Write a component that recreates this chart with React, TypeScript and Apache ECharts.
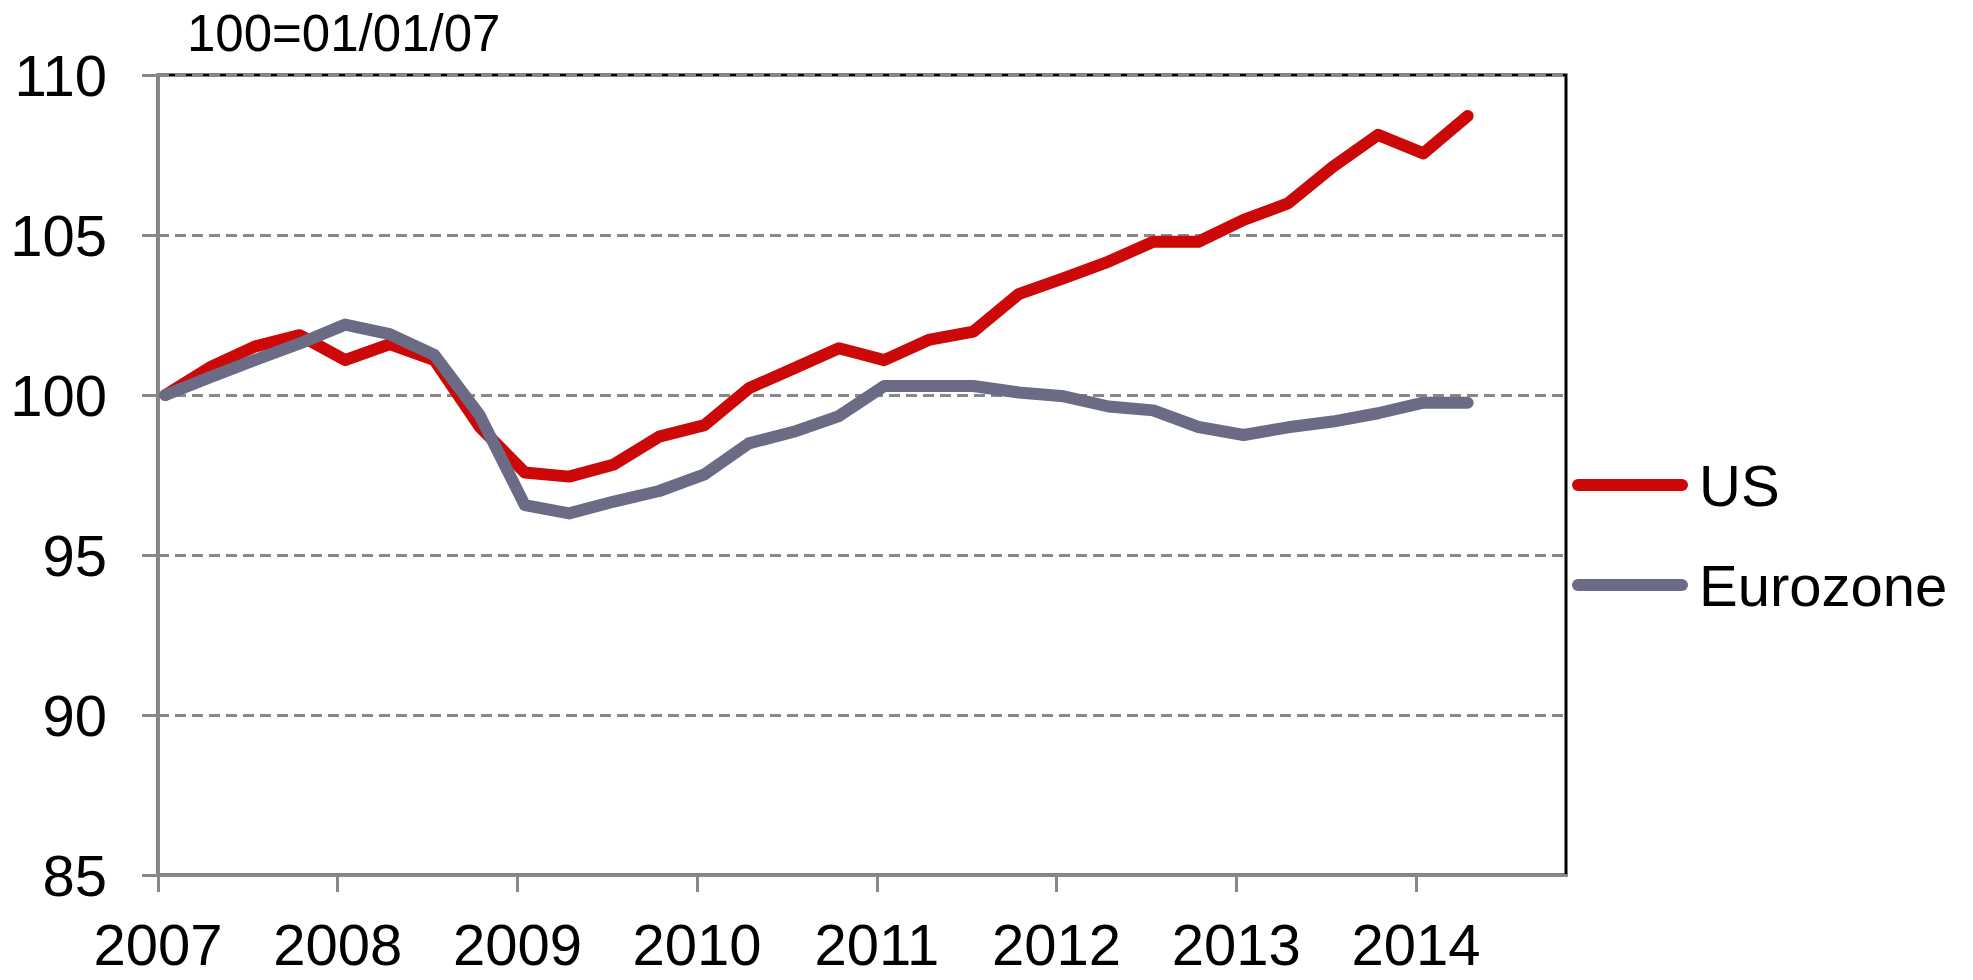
import React, { useEffect, useRef } from "react";
import * as echarts from "echarts";

const quarterDates = [
  "2007-01-16", "2007-04-16", "2007-07-16", "2007-10-16",
  "2008-01-16", "2008-04-16", "2008-07-16", "2008-10-16",
  "2009-01-16", "2009-04-16", "2009-07-16", "2009-10-16",
  "2010-01-16", "2010-04-16", "2010-07-16", "2010-10-16",
  "2011-01-16", "2011-04-16", "2011-07-16", "2011-10-16",
  "2012-01-16", "2012-04-16", "2012-07-16", "2012-10-16",
  "2013-01-16", "2013-04-16", "2013-07-16", "2013-10-16",
  "2014-01-16", "2014-04-16",
];

const usValues = [
  100, 100.86, 101.51, 101.87, 101.09, 101.59, 101.09, 99.01, 97.58, 97.45,
  97.83, 98.7, 99.06, 100.21, 100.83, 101.46, 101.09, 101.72, 101.98, 103.15,
  103.65, 104.17, 104.79, 104.79, 105.47, 105.99, 107.13, 108.13, 107.55, 108.72,
];

const eurozoneValues = [
  100, 100.55, 101.09, 101.61, 102.2, 101.9, 101.25, 99.37, 96.56, 96.3,
  96.67, 97.0, 97.52, 98.49, 98.85, 99.34, 100.28, 100.28, 100.28, 100.08,
  99.96, 99.64, 99.52, 99.0, 98.75, 98.99, 99.17, 99.43, 99.76, 99.76,
];

const yearTicks = [2007, 2008, 2009, 2010, 2011, 2012, 2013, 2014];
const seriesNames = ["US", "Eurozone"];
const baseNote = "100=01/01/07";

const toDecimalYear = (d: string) => {
  const [y, m, day] = d.split("-").map(Number);
  const start = Date.UTC(y, 0, 1);
  const end = Date.UTC(y + 1, 0, 1);
  const t = Date.UTC(y, m - 1, day);
  return y + (t - start) / (end - start);
};

const FONT = "'Liberation Sans', Arial, sans-serif";
const GRAY = "#888888";
const capsule = "path://M6,0 H110 A6,6 0 0 1 110,12 H6 A6,6 0 0 1 6,0 Z";

export default function App() {
  const ref = useRef<HTMLDivElement>(null);
  useEffect(() => {
    if (!ref.current) return;
    const chart = echarts.init(ref.current, undefined, { renderer: "svg" });
    const xs = quarterDates.map(toDecimalYear);
    chart.setOption({
      animation: false,
      backgroundColor: "#ffffff",
      textStyle: { fontFamily: FONT },
      grid: {
        left: 158,
        right: 407,
        top: 75,
        bottom: 105,
        show: true,
        borderColor: "#000000",
        borderWidth: 3,
        backgroundColor: "transparent",
        z: -1,
      },
      graphic: [
        {
          type: "text",
          left: 187,
          top: 8,
          style: {
            text: baseNote,
            fontSize: 51,
            fontFamily: FONT,
            fill: "#000000",
          },
        },
      ],
      legend: {
        orient: "vertical",
        left: 1572,
        top: 456,
        padding: 0,
        itemGap: 42,
        itemWidth: 116,
        itemHeight: 12,
        data: seriesNames.map((n) => ({ name: n, icon: capsule })),
        textStyle: {
          fontSize: 58,
          lineHeight: 58,
          color: "#000000",
          fontFamily: FONT,
          padding: [0, 0, 0, 6],
        },
      },
      xAxis: {
        type: "value",
        min: 2007,
        max: 2014.835,
        interval: 1,
        z: 3,
        axisLine: { show: true, lineStyle: { color: GRAY, width: 3 } },
        axisTick: {
          show: true,
          inside: false,
          length: 17,
          lineStyle: { color: GRAY, width: 3 },
          customValues: yearTicks,
        },
        axisLabel: {
          fontSize: 58,
          color: "#000000",
          margin: 40,
          fontFamily: FONT,
          customValues: yearTicks,
          formatter: (v: number) => String(Math.round(v)),
        },
        splitLine: { show: false },
      },
      yAxis: {
        type: "value",
        min: 85,
        max: 110,
        interval: 5,
        z: 3,
        axisLine: { show: true, lineStyle: { color: GRAY, width: 3 } },
        axisTick: {
          show: true,
          inside: false,
          length: 16,
          lineStyle: { color: GRAY, width: 3 },
        },
        axisLabel: {
          fontSize: 58,
          color: "#000000",
          margin: 51,
          fontFamily: FONT,
        },
        splitLine: {
          show: true,
          lineStyle: { color: GRAY, width: 3, type: [11, 6] },
        },
      },
      series: [
        {
          name: seriesNames[0],
          type: "line",
          data: xs.map((x, i) => [x, usValues[i]]),
          symbol: "none",
          showSymbol: false,
          color: "#CC0808",
          lineStyle: { width: 12, color: "#CC0808", cap: "round", join: "round" },
          z: 4,
        },
        {
          name: seriesNames[1],
          type: "line",
          data: xs.map((x, i) => [x, eurozoneValues[i]]),
          symbol: "none",
          showSymbol: false,
          color: "#6B6B86",
          lineStyle: { width: 12, color: "#6B6B86", cap: "round", join: "round" },
          z: 5,
        },
      ],
    });
    return () => chart.dispose();
  }, []);
  return (
    <div
      ref={ref}
      style={{ position: "absolute", left: 0, top: 0, width: 1973, height: 980 }}
    />
  );
}
